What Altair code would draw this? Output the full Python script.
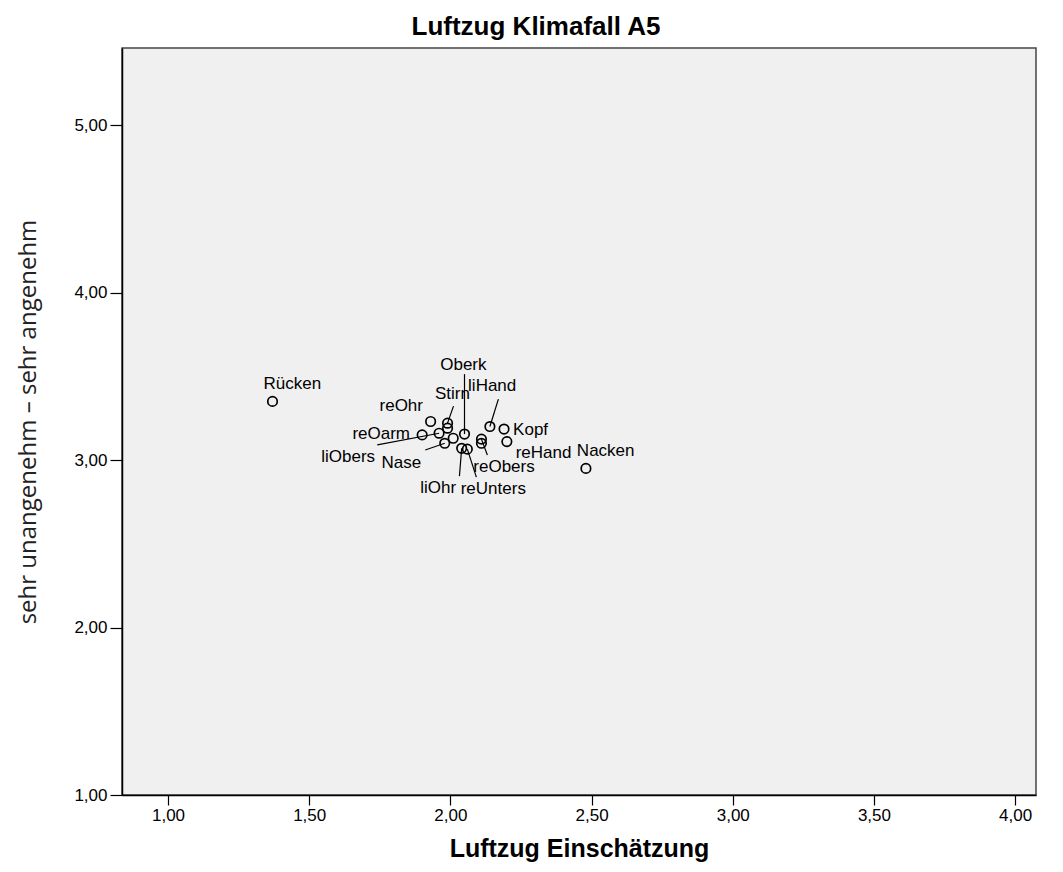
import altair as alt
import pandas as pd

# body part points (x = Luftzug Einschätzung, y = Empfinden)
names = ["Rücken", "Nacken", "reOhr", "Stirn", "", "reOarm", "liObers", "Nase", "",
         "Oberk", "reObers", "", "liOhr", "reUnters", "liHand", "Kopf", "reHand"]
x_vals = [1.37, 2.48, 1.93, 1.99, 1.99, 1.90, 1.96, 1.98, 2.01,
          2.05, 2.11, 2.11, 2.04, 2.06, 2.14, 2.19, 2.20]
y_vals = [3.35, 2.95, 3.23, 3.22, 3.19, 3.15, 3.16, 3.10, 3.13,
          3.155, 3.125, 3.10, 3.07, 3.065, 3.20, 3.185, 3.11]

# label anchor positions (data units)
lab_x = [1.44, 2.55, 1.826, 2.007, None, 1.755, 1.638, 1.826, None,
         2.046, 2.19, None, 1.957, 2.152, 2.148, 2.284, 2.33]
lab_y = [3.454, 3.054, 3.322, 3.394, None, 3.155, 3.02, 2.98, None,
         3.567, 2.958, None, 2.833, 2.827, 3.442, 3.179, 3.04]
# leader line ends (data units); None = no leader line
lead_x = [None, None, None, 2.011, None, None, 1.741, 1.911, None,
          2.05, 2.131, None, 2.032, 2.092, 2.17, None, None]
lead_y = [None, None, None, 3.322, None, None, 3.09, 3.06, None,
          3.513, 3.03, None, 2.904, 2.898, 3.364, None, None]

x_ticks = [1.0, 1.5, 2.0, 2.5, 3.0, 3.5, 4.0]
y_ticks = [1.0, 2.0, 3.0, 4.0, 5.0]

df = pd.DataFrame({"name": names, "x": x_vals, "y": y_vals,
                   "lx": lab_x, "ly": lab_y, "ex": lead_x, "ey": lead_y})

label_expr = "replace(format(datum.value, '.2f'), '.', ',')"

xscale = alt.Scale(domain=[0.837, 4.074], zero=False, nice=False)
yscale = alt.Scale(domain=[1.0, 5.46], zero=False, nice=False)

xax = alt.Axis(values=x_ticks, labelExpr=label_expr, grid=False,
               title="Luftzug Einschätzung", titleFont="Liberation Sans",
               titleFontSize=25, titleFontWeight="bold", titleColor="#000",
               titlePadding=13, labelFont="Liberation Sans", labelFontSize=17,
               labelColor="#000", tickColor="#000", tickSize=10, tickWidth=1.2,
               domainColor="#000", domainWidth=1.5, labelPadding=2)
yax = alt.Axis(values=y_ticks, labelExpr=label_expr, grid=False,
               title="sehr unangenehm – sehr angenehm", titleFont="Open Sans",
               titleFontSize=24, titleFontWeight="normal", titleColor="#222",
               titlePadding=33, labelFont="Liberation Sans", labelFontSize=17,
               labelColor="#000", tickColor="#000", tickSize=12, tickWidth=1.2,
               domainColor="#000", domainWidth=1.5, labelPadding=3)

base = alt.Chart(df)

points = base.mark_point(shape="circle", filled=False, color="#000",
                         size=90, strokeWidth=1.7, opacity=1).encode(
    x=alt.X("x:Q", scale=xscale, axis=xax),
    y=alt.Y("y:Q", scale=yscale, axis=yax),
)

leaders = base.transform_filter("isValid(datum.ex)").mark_rule(
    color="#000", strokeWidth=1.2).encode(
    x=alt.X("x:Q", scale=xscale), y=alt.Y("y:Q", scale=yscale),
    x2="ex:Q", y2="ey:Q",
)

labels = base.transform_filter("isValid(datum.lx)").mark_text(
    font="Liberation Sans", fontSize=17, color="#000",
    align="center", baseline="middle").encode(
    x=alt.X("lx:Q", scale=xscale), y=alt.Y("ly:Q", scale=yscale),
    text="name:N",
)

chart = alt.layer(leaders, points, labels).properties(
    width=914, height=747,
    title=alt.TitleParams("Luftzug Klimafall A5", font="Liberation Sans",
                          fontSize=26, fontWeight="bold", color="#000",
                          anchor="middle", offset=8, dx=-43),
    padding={"left": 114, "top": 40, "right": 19, "bottom": 69},
    autosize=alt.AutoSizeParams(type="none"),
    background="#ffffff",
).configure_view(
    fill="#f0f0f0", stroke="#444", strokeWidth=1.5,
)

chart.save("out.html", embed_options={"renderer": "svg", "actions": False})
